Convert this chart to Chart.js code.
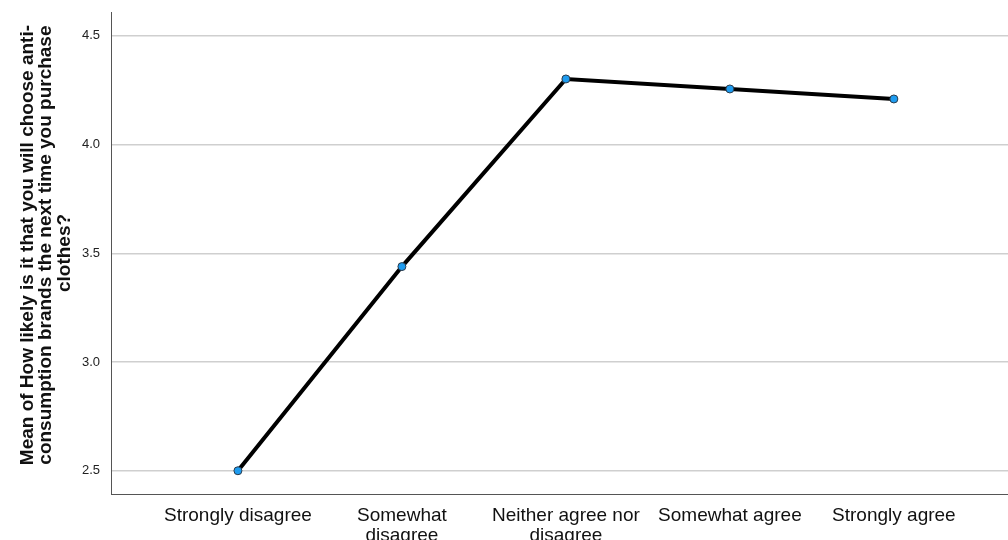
<!DOCTYPE html>
<html>
<head>
<meta charset="utf-8">
<script src="https://cdn.jsdelivr.net/npm/chart.js@4"></script>
<style>
  html, body { margin: 0; padding: 0; background: #fff; overflow: hidden; }
  /* a little wider than the window so the plot runs to the right edge */
  #wrap { width: 1013px; height: 540px; position: relative; }
</style>
</head>
<body>
<div id="wrap"><canvas id="meanChart"></canvas></div>
<script>
// categories and means
const categories = [
  'Strongly disagree',
  ['Somewhat', 'disagree'],
  ['Neither agree nor', 'disagree'],
  'Somewhat agree',
  'Strongly agree'
];
const means = [2.50, 3.439, 4.302, 4.256, 4.210];
const yTicks = [2.5, 3.0, 3.5, 4.0, 4.5];
const yTitle = [
  '   Mean of How likely is it that you will choose anti-',
  '   consumption brands the next time you purchase',
  'clothes?'
];

document.addEventListener('DOMContentLoaded', function() {
  const points = means.map((v, i) => ({ x: i, y: v }));
  const ctx = document.getElementById('meanChart').getContext('2d');

  new Chart(ctx, {
    type: 'line',
    data: {
      datasets: [{
        data: points,
        borderColor: '#000',
        borderWidth: 4,
        pointRadius: 4,
        pointHoverRadius: 4,
        pointBackgroundColor: '#1e9cf0',
        pointBorderColor: '#2a3a4a',
        pointBorderWidth: 1,
        tension: 0
      }]
    },
    options: {
      responsive: true,
      maintainAspectRatio: false,
      animation: false,
      layout: { padding: { top: 12, right: 0, left: 0, bottom: 0 } },
      plugins: {
        legend: { display: false },
        tooltip: { enabled: false }
      },
      scales: {
        x: {
          type: 'linear',
          min: -0.774,
          max: 4.696,
          afterBuildTicks: function(axis) {
            axis.ticks = categories.map((c, i) => ({ value: i }));
          },
          afterFit: function(axis) {
            axis.height = 46;
            axis.paddingLeft = 0;
            axis.paddingRight = 0;
          },
          grid: { display: false, drawTicks: false },
          border: { display: true, color: '#555', width: 1 },
          ticks: {
            autoSkip: false,
            maxRotation: 0,
            padding: 12,
            color: '#111',
            font: { family: 'Liberation Sans, Arial, sans-serif', size: 19, lineHeight: 1.05 },
            callback: function(value) { return categories[value]; }
          }
        },
        y: {
          min: 2.393,
          max: 4.61,
          afterBuildTicks: function(axis) {
            axis.ticks = yTicks.map(v => ({ value: v }));
          },
          afterFit: function(axis) {
            axis.width = 111;
            axis.paddingTop = 0;
            axis.paddingBottom = 0;
          },
          grid: { color: '#cfcfcf', lineWidth: 1.5, drawTicks: false },
          border: { display: true, color: '#555', width: 1 },
          ticks: {
            padding: 11,
            color: '#222',
            font: { family: 'Liberation Sans, Arial, sans-serif', size: 13 },
            callback: function(value) { return value.toFixed(1); }
          },
          title: {
            display: true,
            text: yTitle,
            color: '#111',
            padding: { top: 18, bottom: 0 },
            font: { family: 'Liberation Sans, Arial, sans-serif', size: 19, weight: 'bold', lineHeight: 0.985 }
          }
        }
      }
    }
  });
});
</script>
</body>
</html>
